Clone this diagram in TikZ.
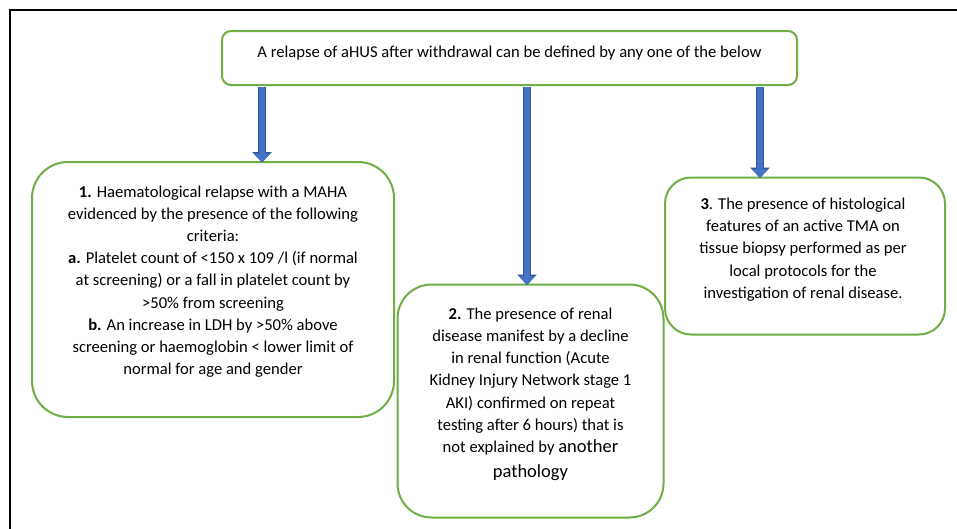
\documentclass[tikz,border=0pt]{standalone}
\usepackage{fontspec}
\setmainfont{Carlito}
\usetikzlibrary{arrows.meta,calc}
\definecolor{boxgreen}{HTML}{70AD47}
\definecolor{arrblue}{HTML}{4472C4}
\definecolor{arrdark}{HTML}{2F5597}
\tikzset{
  box/.style={draw=boxgreen, line width=2pt, fill=white},
  txt/.style={align=center, inner sep=0pt, font=\fontsize{16.6}{22.2}\selectfont, text=black},
  bigarrow/.style={draw=arrblue, line width=6.5pt, -{Triangle[width=16pt,length=9pt]},
    preaction={draw=arrdark, line width=8.5pt, -{Triangle[width=19pt,length=10.5pt]}}},
}
\begin{document}
\begin{tikzpicture}[x=1pt,y=-1pt]
\useasboundingbox (0,0) rectangle (957,528);
\clip (0,0) rectangle (957,528);
\fill[white] (0,0) rectangle (957,528);
\draw[black, line width=2pt] (10,10) rectangle (1000,600);

% boxes
\node[box, rounded corners=9pt, minimum width=575pt, minimum height=54pt] (top) at (509.5,58) {};
\node[box, rounded corners=36pt, minimum width=362pt, minimum height=255pt] (b1) at (213,289.5) {};
\node[box, rounded corners=34pt, minimum width=266pt, minimum height=233pt] (b2) at (530.5,401) {};
\node[box, rounded corners=26pt, minimum width=280pt, minimum height=157pt] (b3) at (805,256) {};

% texts
\node[txt] (t0) at (509.5,53) {A relapse of aHUS after withdrawal can be defined by any one of the below};
\node[txt] (t1) at (213,281.5) {\textbf{1.} Haematological relapse with a MAHA\\
evidenced by the presence of the following\\
criteria:\\
\textbf{a.} Platelet count of <150 x 109 /l (if normal\\
at screening) or a fall in platelet count by\\
>50\% from screening\\
\textbf{b.} An increase in LDH by >50\% above\\
screening or haemoglobin < lower limit of\\
normal for age and gender};
\node[txt] (t2) at (530.5,394) {\textbf{2.} The presence of renal\\
disease manifest by a decline\\
in renal function (Acute\\
Kidney Injury Network stage 1\\
AKI) confirmed on repeat\\
testing after 6 hours) that is\\
not explained by {\fontsize{18.5}{22.2}\selectfont another}\\[2.5pt]
{\fontsize{18.5}{22.2}\selectfont pathology}};
\node[txt] (t3) at (803,249.5) {\textbf{3}. The presence of histological\\
features of an active TMA on\\
tissue biopsy performed as per\\
local protocols for the\\
investigation of renal disease.};

% arrow positions
\coordinate (a1) at (262,0);
\coordinate (a2) at (527,0);
\coordinate (a3) at (760,0);
\draw[bigarrow] ([yshift=-1pt]top.south -| a1) -- ([yshift=-1.5pt]b1.north -| a1);
\draw[bigarrow] ([yshift=-1pt]top.south -| a2) -- ([yshift=-1.5pt]b2.north -| a2);
\draw[bigarrow] ([yshift=-1pt]top.south -| a3) -- ([yshift=-1.5pt]b3.north -| a3);
\end{tikzpicture}
\end{document}
